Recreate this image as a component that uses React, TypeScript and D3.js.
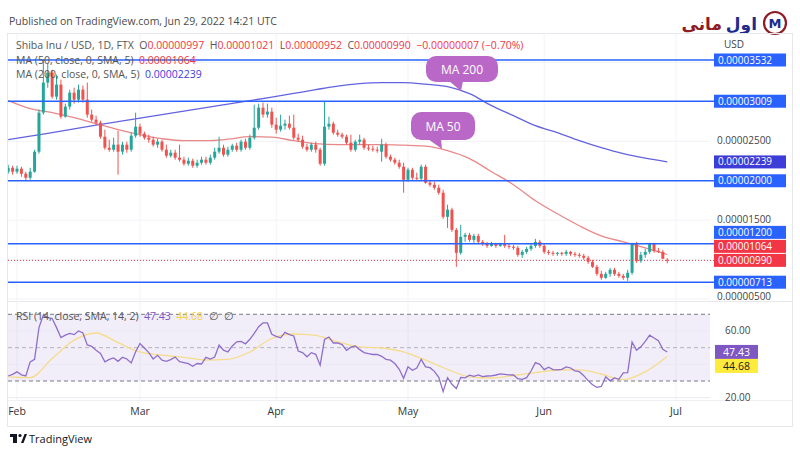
import React from "react";
import * as d3 from "d3";

// ---- DATA (prices in units of 1e-8 USD) ----
const firstDay = [2022, 0, 30];
const opens = [
  2115, 2165, 2115, 2153, 2089, 2038, 2115, 2369, 2864, 3245,
  3372, 3067, 3220, 2813, 2940, 3118, 3029, 3156, 3029, 2839,
  2775, 2737, 2559, 2419, 2394, 2458, 2369, 2458, 2394, 2572,
  2686, 2597, 2546, 2521, 2458, 2496, 2394, 2318, 2356, 2293,
  2267, 2216, 2254, 2191, 2229, 2267, 2229, 2293, 2369, 2419,
  2331, 2394, 2445, 2394, 2496, 2419, 2546, 2673, 2927, 2839,
  2877, 2712, 2648, 2699, 2724, 2673, 2546, 2521, 2432, 2394,
  2458, 2394, 2216, 2686, 2724, 2610, 2585, 2559, 2483, 2394,
  2496, 2521, 2419, 2407, 2394, 2369, 2458, 2305, 2267, 2229,
  2178, 2013, 2140, 2038, 2026, 2178, 1975, 1950, 1911, 1848,
  1542, 1633, 1377, 1086, 1289, 1314, 1250, 1301, 1225, 1199,
  1174, 1199, 1174, 1199, 1174, 1162, 1149, 1060, 1098, 1136,
  1174, 1225, 1174, 1098, 1086, 1073, 1086, 1073, 1098, 1073,
  1060, 1048, 1022, 972, 908, 819, 769, 819, 870, 819,
  794, 769, 832, 1199, 984, 1060, 1098, 1199, 1111, 1098,
  997,
];
const highs = [
  2204, 2191, 2191, 2178, 2115, 2165, 2394, 2902, 3540, 3486,
  3410, 3347, 3283, 2978, 3156, 3181, 3220, 3207, 3245, 2902,
  2826, 2762, 2648, 2521, 2546, 2635, 2496, 2496, 2610, 2864,
  2724, 2623, 2585, 2559, 2534, 2521, 2458, 2394, 2394, 2458,
  2305, 2293, 2280, 2267, 2305, 2305, 2331, 2419, 2559, 2458,
  2432, 2470, 2483, 2521, 2534, 2585, 2966, 2978, 2991, 2978,
  2927, 2800, 2839, 2775, 2826, 2839, 2597, 2572, 2470, 2483,
  2496, 2419, 3004, 2813, 2750, 2648, 2610, 2585, 2585, 2521,
  2585, 2546, 2458, 2445, 2432, 2534, 2483, 2331, 2293, 2267,
  2229, 2165, 2165, 2102, 2204, 2204, 2013, 1988, 1950, 1886,
  1696, 1658, 1402, 1441, 1339, 1339, 1327, 1327, 1250, 1225,
  1225, 1213, 1213, 1314, 1199, 1187, 1174, 1124, 1162, 1199,
  1263, 1250, 1199, 1124, 1111, 1098, 1098, 1124, 1111, 1098,
  1086, 1073, 1048, 997, 934, 857, 845, 895, 895, 845,
  819, 870, 1213, 1225, 1098, 1136, 1213, 1213, 1149, 1124,
  1021,
];
const lows = [
  2089, 2077, 2089, 2051, 2000, 2013, 2102, 2343, 2839, 3181,
  3042, 3029, 2788, 2800, 2902, 2978, 2991, 2991, 2800, 2750,
  2712, 2534, 2394, 2369, 2369, 2077, 2331, 2356, 2369, 2546,
  2559, 2521, 2483, 2432, 2419, 2369, 2293, 2293, 2267, 2242,
  2191, 2191, 2165, 2165, 2204, 2204, 2204, 2267, 2343, 2305,
  2305, 2369, 2369, 2369, 2394, 2394, 2521, 2648, 2800, 2800,
  2673, 2597, 2623, 2648, 2648, 2521, 2496, 2407, 2369, 2369,
  2356, 2191, 2191, 2648, 2585, 2559, 2534, 2458, 2369, 2369,
  2458, 2394, 2381, 2369, 2356, 2242, 2280, 2242, 2204, 2153,
  1848, 1988, 2013, 2000, 2000, 1962, 1924, 1886, 1823, 1517,
  1402, 1352, 908, 1060, 1225, 1225, 1213, 1199, 1174, 1149,
  1162, 1149, 1162, 1149, 1136, 1124, 1035, 1022, 1073, 1111,
  1149, 1149, 1073, 1060, 1048, 1048, 1048, 1048, 1048, 1035,
  1022, 997, 946, 895, 794, 743, 756, 781, 794, 769,
  743, 730, 807, 959, 959, 1022, 1073, 1086, 1086, 1010,
  952,
];
const closes = [
  2165, 2115, 2153, 2089, 2038, 2115, 2369, 2864, 3245, 3372,
  3067, 3220, 2813, 2940, 3118, 3029, 3156, 3029, 2839, 2775,
  2737, 2559, 2419, 2394, 2458, 2369, 2458, 2394, 2572, 2686,
  2597, 2546, 2521, 2458, 2496, 2394, 2318, 2356, 2293, 2267,
  2216, 2254, 2191, 2229, 2267, 2229, 2293, 2369, 2419, 2331,
  2394, 2445, 2394, 2496, 2419, 2546, 2673, 2927, 2839, 2877,
  2712, 2648, 2699, 2724, 2673, 2546, 2521, 2432, 2394, 2458,
  2394, 2216, 2686, 2724, 2610, 2585, 2559, 2483, 2394, 2496,
  2521, 2419, 2407, 2394, 2381, 2458, 2305, 2267, 2229, 2178,
  2013, 2140, 2038, 2026, 2178, 1975, 1950, 1911, 1848, 1542,
  1633, 1377, 1086, 1289, 1314, 1250, 1301, 1225, 1199, 1174,
  1199, 1174, 1199, 1174, 1162, 1149, 1060, 1098, 1136, 1174,
  1225, 1174, 1098, 1086, 1073, 1086, 1073, 1098, 1073, 1060,
  1048, 1022, 972, 908, 819, 769, 819, 870, 819, 794,
  769, 832, 1199, 984, 1060, 1098, 1199, 1111, 1098, 1010,
  990,
];

// moving averages sampled every 5 candles (day offset from first candle)
const maDays = [0, 5, 10, 15, 20, 25, 30, 35, 40, 45, 50, 55, 60, 65, 70, 75, 80, 85, 90, 95, 100, 105, 110, 115, 120, 125, 130, 135, 140, 145, 150];
const ma50 = [3016, 2915, 2864, 2800, 2724, 2648, 2585, 2534, 2508, 2508, 2527, 2559, 2553, 2508, 2470, 2458, 2458, 2458, 2451, 2439, 2381, 2280, 2115, 1950, 1746, 1581, 1429, 1301, 1225, 1149, 1064];
const ma200 = [2521, 2566, 2610, 2658, 2705, 2750, 2794, 2838, 2883, 2928, 2972, 3016, 3061, 3108, 3156, 3201, 3232, 3245, 3245, 3226, 3194, 3105, 2953, 2826, 2699, 2610, 2508, 2419, 2343, 2286, 2239];

const rsi = [
  33, 34, 35.5, 33.7, 33, 41.5, 43, 62, 69.6, 68,
  67.5, 62, 56, 57.5, 58.5, 57.8, 60, 58.8, 51.6, 50.8,
  48.5, 46.5, 41.5, 43, 43.8, 41.8, 44.2, 43.2, 40.8, 47.5,
  52.5, 49.8, 47, 43.2, 45.4, 42.5, 41.8, 42.8, 44.4, 41.6,
  41, 40.4, 38.8, 40.5, 40.2, 44.2, 43.2, 44.4, 51.6, 48.5,
  47.4, 51, 53.5, 53.8, 52.3, 55, 58.5, 62.6, 64.8, 64.8,
  58, 56.8, 55.9, 59.2, 57.8, 57, 48, 47, 44.5, 47,
  46, 39.5, 55, 56.4, 52.8, 52.8, 51.8, 48.4, 50.3, 51,
  48.8, 47, 46.4, 45.9, 45.9, 44.8, 43, 42.5, 40.5, 37,
  31.6, 38.5, 36.4, 37.8, 43, 38.5, 38, 35.8, 32.2, 23.6,
  32, 28, 25.5, 32.2, 31.9, 33.5, 32.8, 33.7, 32.6, 33,
  33.1, 33.6, 34.3, 34, 33.7, 33.6, 31.4, 31, 32, 36,
  41, 40, 36.8, 38.3, 36.8, 36.7, 37, 38.5, 37.8, 36.1,
  35.6, 33.2, 30.2, 27.7, 26.2, 26.7, 32.5, 30.1, 31.8, 31,
  34.9, 35, 53.4, 48.5, 50.5, 53.8, 57.5, 55.8, 54.1, 49,
  47.43,
];
const rsiSma = [32.5, 32, 43.5, 54.5, 58.8, 53, 47.4, 45.5, 44.2, 42.6, 43, 47.4, 55.5, 58.2, 57.3, 53.5, 50.5, 49.8, 47.5, 42.5, 37, 32.5, 31.8, 33.3, 35, 36.6, 36.7, 34.2, 30.8, 35.5, 44.68];

const levelLines = [3532, 3009, 2000, 1200, 713];
const priceTicks = [2500, 1500, 500];
const gridPrices = [500, 1000, 1500, 2000, 2500, 3000, 3500];
const monthLabels = ["Feb", "Mar", "Apr", "May", "Jun", "Jul"];
const monthDates = [[2022, 1, 1], [2022, 2, 1], [2022, 3, 1], [2022, 4, 1], [2022, 5, 1], [2022, 6, 1]];
const rsiTicks = [60, 20];
const rsiGrid = [20, 40, 60];

const UP = "#26a69a";
const DOWN = "#ef5350";
const BLUE = "#2962ff";
const MA200C = "#3c3cd8";
const MA50C = "#e57373";
const RED = "#f23645";
const RSIC = "#7e57c2";
const RSIMA = "#f5dc8c";
const CALLOUT = "#ba68c8";
const FONT = "'Open Sans', 'Noto Sans', sans-serif";

const fmt = (v: number) => (v * 1e-8).toFixed(8);
const dayDate = (i: number) => new Date(Date.UTC(firstDay[0], firstDay[1], firstDay[2] + i));

export default function App() {
  const x = d3
    .scaleUtc()
    .domain([new Date(Date.UTC(2022, 1, 1)), new Date(Date.UTC(2022, 6, 1))])
    .range([17, 676]);
  const y = d3.scaleLinear().domain([500, 3532]).range([299, 60]);
  const yr = d3.scaleLinear().domain([30, 70]).range([381, 314.3]);

  const plotL = 8, plotR = 710, paneTop = 34, paneBot = 301, rsiTop = 303, rsiBot = 400;

  const ma50Line = d3.line<number>().x((_, i) => x(dayDate(maDays[i]))).y((d) => y(d)).curve(d3.curveMonotoneX)(ma50) || "";
  const ma200Line = d3.line<number>().x((_, i) => x(dayDate(maDays[i]))).y((d) => y(d)).curve(d3.curveMonotoneX)(ma200) || "";
  const rsiLine = d3.line<number>().x((_, i) => x(dayDate(i))).y((d) => yr(d))(rsi) || "";
  const rsiSmaLine = d3.line<number>().x((_, i) => x(dayDate(maDays[i]))).y((d) => yr(d)).curve(d3.curveMonotoneX)(rsiSma) || "";

  // price-axis boxes with simple collision handling (bottom-up)
  const lastClose = closes[closes.length - 1];
  const lastMa50 = ma50[ma50.length - 1];
  const lastMa200 = ma200[ma200.length - 1];
  type Box = { v: number; color: string; cy: number };
  const boxes: Box[] = [
    ...levelLines.map((v) => ({ v, color: BLUE, cy: y(v) })),
    { v: lastMa200, color: MA200C, cy: y(lastMa200) },
    { v: lastMa50, color: RED, cy: y(lastMa50) },
    { v: lastClose, color: RED, cy: y(lastClose) },
  ].sort((a, b) => b.cy - a.cy);
  for (let k = 1; k < boxes.length; k++) {
    if (boxes[k - 1].cy - boxes[k].cy < 14) boxes[k].cy = boxes[k - 1].cy - 14;
  }
  const rsiLast = rsi[rsi.length - 1];
  const rsiSmaLast = rsiSma[rsiSma.length - 1];
  const rsiBoxA = yr(rsiLast);
  const rsiBoxB = Math.max(yr(rsiSmaLast), rsiBoxA + 14);

  const bw = 3;

  return (
    <svg width={800} height={450} style={{ position: "absolute", left: 0, top: 0, background: "#fff" }} fontFamily={FONT}>
      <rect width={800} height={450} fill="#fff" />
      <defs>
        <clipPath id="plot">
          <rect x={plotL} y={paneTop} width={plotR - plotL} height={paneBot - paneTop} />
        </clipPath>
        <clipPath id="rsiclip">
          <rect x={plotL} y={rsiTop} width={plotR - plotL} height={rsiBot - rsiTop} />
        </clipPath>
      </defs>

      {/* header */}
      <text x={9} y={25} fontSize={10.5} fill="#4a4a4a">Published on TradingView.com, Jun 29, 2022 14:21 UTC</text>

      {/* logo */}
      <text x={757} y={30} fontSize={17} fontWeight="bold" fill="#1d2b8c" textAnchor="end" fontFamily="'DejaVu Sans', sans-serif">اول</text>
      <text x={722} y={30} fontSize={17} fontWeight="bold" fill="#8e1b25" textAnchor="end" fontFamily="'DejaVu Sans', sans-serif">مانی</text>
      <circle cx={775} cy={23} r={11} fill="none" stroke="#8e1b25" strokeWidth={2.2} />
      <text x={775} y={28} fontSize={13} fontWeight="bold" fill="#1d2b8c" textAnchor="middle" fontFamily="'DejaVu Sans', sans-serif">M</text>

      {/* frame */}
      <rect x={7.5} y={33.5} width={785} height={393} fill="none" stroke="#e6e8ee" />
      <line x1={8} x2={792} y1={301.5} y2={301.5} stroke="#e6e8ee" />
      <line x1={8} x2={792} y1={400.5} y2={400.5} stroke="#eef0f4" />

      {/* grid */}
      {gridPrices.map((g) => (
        <line key={"g" + g} x1={plotL} x2={plotR} y1={y(g)} y2={y(g)} stroke="#f2f3f7" />
      ))}
      {monthDates.map((m, k) => (
        <line key={"vg" + k} x1={x(new Date(Date.UTC(m[0], m[1], m[2])))} x2={x(new Date(Date.UTC(m[0], m[1], m[2])))} y1={paneTop} y2={rsiBot} stroke="#f2f3f7" />
      ))}

      {/* main pane */}
      <g clipPath="url(#plot)">
        <path d={ma200Line} fill="none" stroke={MA200C} strokeOpacity={0.8} strokeWidth={1.3} />
        <path d={ma50Line} fill="none" stroke={MA50C} strokeOpacity={0.85} strokeWidth={1.3} />
        {closes.map((c, i) => {
          const o = opens[i];
          const cx = x(dayDate(i));
          const col = c >= o ? UP : DOWN;
          const top = y(Math.max(o, c));
          const bot = y(Math.min(o, c));
          return (
            <g key={i}>
              <line x1={cx} x2={cx} y1={y(highs[i])} y2={y(lows[i])} stroke={col} strokeWidth={1} />
              <rect x={cx - bw / 2} y={top} width={bw} height={Math.max(1, bot - top)} fill={col} />
            </g>
          );
        })}
      </g>
      {levelLines.map((v) => (
        <line key={"lv" + v} x1={plotL} x2={716} y1={y(v)} y2={y(v)} stroke={BLUE} strokeWidth={1.6} />
      ))}
      <line x1={plotL} x2={716} y1={y(lastClose)} y2={y(lastClose)} stroke={RED} strokeWidth={1} strokeDasharray="1 2" />

      {/* callouts */}
      <g>
        <path d="M449,81 L463,81 L461,91 Z" fill={CALLOUT} />
        <rect x={426} y={56} width={72} height={26} rx={10} fill={CALLOUT} />
        <text x={462} y={73.5} fontSize={12} fill="#fff" textAnchor="middle">MA 200</text>
        <path d="M428,139 L441,139 L442,149 Z" fill={CALLOUT} />
        <rect x={411} y={112} width={64} height={28} rx={10} fill={CALLOUT} />
        <text x={443} y={130.5} fontSize={12} fill="#fff" textAnchor="middle">MA 50</text>
      </g>

      {/* legend */}
      <text x={16} y={49} fontSize={10.5} fill="#555" style={{ whiteSpace: "pre" }}>
        <tspan>Shiba Inu / USD, 1D, FTX  O</tspan>
        <tspan fill={RED}>{fmt(opens[opens.length - 1])}</tspan>
        <tspan>  H</tspan>
        <tspan fill={RED}>{fmt(highs[highs.length - 1])}</tspan>
        <tspan>  L</tspan>
        <tspan fill={RED}>{fmt(lows[lows.length - 1])}</tspan>
        <tspan>  C</tspan>
        <tspan fill={RED}>{fmt(lastClose)}</tspan>
        <tspan fill={RED}>  −0.00000007 (−0.70%)</tspan>
      </text>
      <text x={16} y={64} fontSize={10.5} fill="#555" style={{ whiteSpace: "pre" }}>
        <tspan>MA (50, close, 0, SMA, 5)  </tspan>
        <tspan fill={RED}>{fmt(lastMa50)}</tspan>
      </text>
      <text x={16} y={78} fontSize={10.5} fill="#555" style={{ whiteSpace: "pre" }}>
        <tspan>MA (200, close, 0, SMA, 5)  </tspan>
        <tspan fill={MA200C}>{fmt(lastMa200)}</tspan>
      </text>

      {/* price axis */}
      <text x={724} y={48} fontSize={10} fill="#444">USD</text>
      {priceTicks.map((v) => (
        <text key={"pt" + v} x={717} y={Math.min(y(v), 297) + 2.5} fontSize={10} fill="#444">{fmt(v)}</text>
      ))}
      {boxes.map((b, k) => (
        <g key={"bx" + k}>
          <rect x={714} y={b.cy - 6.5} width={72} height={13} fill={b.color} />
          <text x={718} y={b.cy + 3.5} fontSize={10} fill="#fff">{fmt(b.v)}</text>
        </g>
      ))}

      {/* RSI pane */}
      <rect x={plotL} y={yr(70)} width={plotR - plotL} height={yr(30) - yr(70)} fill={RSIC} fillOpacity={0.1} />
      {rsiGrid.map((g) => (
        <line key={"rg" + g} x1={plotL} x2={plotR} y1={yr(g)} y2={yr(g)} stroke="#ebe8f3" />
      ))}
      {[70, 50, 30].map((g) => (
        <line key={"rb" + g} x1={plotL} x2={plotR} y1={yr(g)} y2={yr(g)} stroke="#787b86" strokeDasharray="4 3" strokeOpacity={g === 50 ? 0.5 : 1} />
      ))}
      <g clipPath="url(#rsiclip)">
        <path d={rsiSmaLine} fill="none" stroke={RSIMA} strokeWidth={1.3} />
        <path d={rsiLine} fill="none" stroke={RSIC} strokeOpacity={0.85} strokeWidth={1.3} />
      </g>
      <text x={16} y={320} fontSize={10.5} fill="#555" style={{ whiteSpace: "pre" }}>
        <tspan>RSI (14, close, SMA, 14, 2)  </tspan>
        <tspan fill={RSIC}>{rsiLast.toFixed(2)}</tspan>
        <tspan>  </tspan>
        <tspan fill="#f2d24b">{rsiSmaLast.toFixed(2)}</tspan>
        <tspan>  ∅  ∅</tspan>
      </text>
      {rsiTicks.map((t) => (
        <text key={"rt" + t} x={725} y={yr(t) + 3.5} fontSize={10} fill="#444">{t.toFixed(2)}</text>
      ))}
      <rect x={715} y={rsiBoxA - 7} width={43} height={14} fill={RSIC} />
      <text x={736.5} y={rsiBoxA + 3.8} fontSize={10.5} fill="#fff" textAnchor="middle">{rsiLast.toFixed(2)}</text>
      <rect x={715} y={rsiBoxB - 7} width={43} height={14} fill="#ffeb3b" />
      <text x={736.5} y={rsiBoxB + 3.8} fontSize={10.5} fill="#222" textAnchor="middle">{rsiSmaLast.toFixed(2)}</text>

      {/* time axis */}
      {monthLabels.map((m, k) => (
        <text key={m} x={x(new Date(Date.UTC(monthDates[k][0], monthDates[k][1], monthDates[k][2])))} y={415} fontSize={10.5} fill="#333" textAnchor="middle">{m}</text>
      ))}

      {/* TradingView footer */}
      <g fill="#131722">
        <rect x={10} y={434} width={7} height={3} />
        <rect x={13} y={434} width={4} height={9} />
        <circle cx={20} cy={435.5} r={1.6} />
        <path d="M21,443 L24.5,434 L27,434 L23.5,443 Z" />
      </g>
      <text x={29} y={443} fontSize={11} fill="#131722">TradingView</text>
    </svg>
  );
}
